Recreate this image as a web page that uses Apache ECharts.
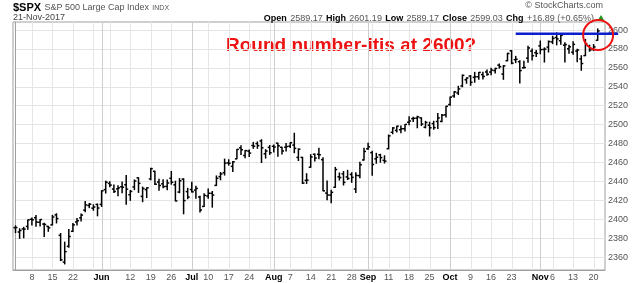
<!DOCTYPE html>
<html><head><meta charset="utf-8">
<script src="https://cdn.jsdelivr.net/npm/echarts@6/dist/echarts.min.js"></script>
<style>html,body{margin:0;padding:0;background:#fff}#c{width:640px;height:283px}</style>
</head><body><div id="c"></div>
<script>
// trading days (index 0 = 2017-05-02)
const dates = ['05-02','05-03','05-04','05-05','05-08','05-09','05-10','05-11','05-12','05-15','05-16','05-17','05-18','05-19','05-22','05-23','05-24','05-25','05-26','05-30','05-31',
'06-01','06-02','06-05','06-06','06-07','06-08','06-09','06-12','06-13','06-14','06-15','06-16','06-19','06-20','06-21','06-22','06-23','06-26','06-27','06-28','06-29','06-30',
'07-03','07-05','07-06','07-07','07-10','07-11','07-12','07-13','07-14','07-17','07-18','07-19','07-20','07-21','07-24','07-25','07-26','07-27','07-28','07-31',
'08-01','08-02','08-03','08-04','08-07','08-08','08-09','08-10','08-11','08-14','08-15','08-16','08-17','08-18','08-21','08-22','08-23','08-24','08-25','08-28','08-29','08-30','08-31',
'09-01','09-05','09-06','09-07','09-08','09-11','09-12','09-13','09-14','09-15','09-18','09-19','09-20','09-21','09-22','09-25','09-26','09-27','09-28','09-29',
'10-02','10-03','10-04','10-05','10-06','10-09','10-10','10-11','10-12','10-13','10-16','10-17','10-18','10-19','10-20','10-23','10-24','10-25','10-26','10-27','10-30','10-31',
'11-01','11-02','11-03','11-06','11-07','11-08','11-09','11-10','11-13','11-14','11-15','11-16','11-17','11-20','11-21'];

const open = [2391.05,2386.50,2389.79,2392.37,2399.94,2401.58,2396.79,2394.84,2392.44,2393.98,2404.55,2382.95,2354.69,2371.37,2387.21,2397.04,2401.41,2409.54,2414.50,2411.67,2415.63,
2415.65,2431.28,2437.83,2431.92,2432.03,2434.27,2436.39,2425.88,2434.15,2443.75,2424.14,2431.24,2442.55,2450.66,2439.31,2437.40,2434.65,2443.32,2436.34,2428.70,2442.38,2429.20,
2431.39,2430.78,2423.44,2413.52,2424.51,2427.35,2435.75,2444.99,2449.16,2459.50,2455.88,2463.85,2475.56,2467.40,2472.04,2477.88,2479.97,2482.76,2469.12,2475.94,
2477.10,2480.38,2476.03,2476.14,2477.14,2478.35,2465.35,2465.38,2441.04,2454.96,2468.66,2468.63,2462.95,2427.64,2425.50,2433.75,2444.88,2447.91,2444.72,2447.35,2431.94,2446.06,2462.65,
2474.42,2470.35,2463.83,2468.06,2462.25,2474.52,2491.94,2493.89,2494.56,2495.67,2502.51,2506.29,2506.84,2507.16,2497.26,2499.39,2501.04,2503.30,2503.41,2510.31,
2521.20,2530.34,2533.48,2540.86,2547.44,2551.39,2549.99,2550.62,2552.88,2555.66,2555.57,2557.17,2562.87,2553.39,2567.56,2578.08,2568.66,2566.52,2560.08,2570.26,2577.75,2575.99,
2583.21,2579.46,2581.93,2587.47,2592.11,2588.71,2584.00,2580.18,2576.53,2577.75,2569.45,2572.95,2582.94,2579.49,2589.17];

const high = [2392.93,2389.82,2391.43,2399.29,2401.36,2403.87,2399.74,2395.72,2392.44,2404.05,2405.77,2384.87,2375.74,2389.06,2395.46,2400.85,2405.58,2418.71,2416.68,2415.26,2415.99,
2430.06,2440.23,2439.54,2436.21,2435.28,2439.27,2446.20,2430.38,2441.49,2443.75,2433.95,2433.15,2453.82,2450.66,2442.23,2441.62,2441.40,2450.42,2440.15,2442.97,2442.73,2432.71,
2439.17,2434.90,2424.28,2426.92,2432.00,2429.30,2445.76,2449.32,2463.54,2462.82,2460.92,2473.83,2477.62,2472.54,2473.10,2481.24,2481.69,2484.04,2473.53,2477.96,
2478.51,2480.38,2476.03,2480.00,2480.95,2490.87,2474.41,2465.38,2448.09,2468.22,2468.90,2474.93,2465.02,2440.27,2430.58,2454.77,2448.91,2450.39,2451.65,2449.12,2449.19,2460.31,2475.01,
2480.38,2471.97,2469.64,2468.62,2467.11,2488.95,2496.77,2498.37,2498.43,2500.23,2508.32,2507.84,2508.85,2507.16,2503.47,2502.54,2503.51,2511.75,2510.81,2519.44,
2529.23,2535.13,2540.53,2552.51,2549.41,2551.82,2555.23,2555.24,2555.33,2557.65,2559.47,2559.71,2564.11,2562.36,2575.44,2578.29,2572.18,2567.40,2567.07,2582.98,2580.03,2578.29,
2588.40,2581.11,2588.42,2593.38,2597.02,2595.47,2586.50,2583.81,2587.66,2579.66,2572.84,2590.09,2583.96,2584.64,2601.19];

const low = [2385.82,2379.75,2380.35,2389.38,2393.92,2392.44,2392.79,2381.74,2387.19,2393.94,2396.05,2356.21,2352.72,2370.43,2386.92,2393.88,2397.99,2408.01,2412.20,2409.43,2403.59,
2413.54,2427.71,2434.32,2428.12,2424.75,2427.94,2415.70,2419.97,2431.28,2428.34,2418.53,2422.88,2441.79,2436.60,2430.74,2433.27,2431.11,2437.03,2419.38,2428.02,2405.70,2421.65,
2428.69,2422.05,2407.70,2413.52,2422.27,2412.79,2435.75,2441.69,2446.69,2457.16,2450.34,2463.85,2468.43,2465.06,2466.32,2474.91,2474.94,2459.93,2464.66,2468.53,
2471.14,2466.48,2468.85,2472.08,2475.88,2470.32,2462.08,2437.75,2437.85,2454.96,2461.61,2463.86,2430.01,2420.69,2417.35,2433.67,2441.42,2436.19,2441.93,2439.03,2428.20,2443.77,2462.65,
2473.85,2446.55,2459.20,2460.29,2459.40,2474.52,2490.37,2492.14,2491.35,2493.16,2499.92,2503.19,2496.67,2499.00,2496.54,2488.03,2495.12,2495.91,2502.93,2507.99,
2520.40,2528.85,2531.80,2540.02,2543.79,2541.60,2544.86,2547.95,2548.31,2552.09,2552.64,2554.69,2559.67,2547.92,2567.56,2564.33,2565.58,2544.00,2559.80,2565.94,2568.25,2572.15,
2574.92,2566.17,2576.77,2585.66,2584.35,2585.02,2566.33,2575.57,2574.48,2566.56,2557.45,2572.95,2577.62,2578.24,2589.17];

const close = [2391.17,2388.13,2389.52,2399.29,2399.38,2396.92,2399.63,2394.44,2390.90,2402.32,2400.67,2357.03,2365.72,2381.73,2394.02,2398.42,2404.39,2415.07,2415.82,2412.91,2411.80,
2430.06,2439.07,2436.10,2429.33,2433.14,2433.79,2431.77,2429.39,2440.35,2437.92,2432.46,2433.15,2453.46,2437.03,2435.61,2434.50,2438.30,2439.07,2419.38,2440.69,2419.70,2423.41,
2429.01,2432.54,2409.75,2425.18,2427.43,2425.53,2443.25,2447.83,2459.27,2459.14,2460.61,2473.83,2473.45,2472.54,2469.91,2477.13,2477.83,2475.42,2472.10,2470.30,
2476.35,2477.57,2472.16,2476.83,2480.91,2474.92,2474.02,2438.21,2441.32,2465.84,2464.61,2468.11,2430.01,2425.55,2428.37,2452.51,2444.04,2438.97,2443.05,2444.24,2446.30,2457.59,2471.65,
2476.55,2457.85,2465.54,2465.10,2461.43,2488.11,2496.48,2498.37,2495.62,2500.23,2503.87,2506.65,2508.24,2500.60,2502.22,2496.66,2496.84,2507.04,2510.06,2519.36,
2529.12,2534.58,2537.74,2552.07,2549.33,2544.73,2550.64,2555.24,2550.93,2553.17,2557.64,2559.36,2561.26,2562.10,2575.21,2564.98,2569.13,2557.15,2560.40,2581.07,2572.83,2575.26,
2579.36,2579.85,2587.84,2591.13,2590.64,2594.38,2584.62,2582.30,2584.84,2578.87,2564.62,2585.64,2578.85,2582.14,2599.03];

const tickIdx  = [4,9,14,21,28,33,38,43,47,52,57,63,67,72,77,82,86,91,96,101,106,111,116,121,128,131,136,141];
const tickText = ['8','15','22','Jun','12','19','26','Jul','10','17','24','Aug','7','14','21','28','Sep','11','18','25','Oct','9','16','23','Nov','6','13','20'];
const weekLines  = [4,9,14,19,23,28,33,38,43,47,52,57,62,67,72,77,82,87,91,96,101,106,111,116,121,126,131,136,141];
const monthLines = [21,43,63,86,106,128];
const yTicks = [2360,2380,2400,2420,2440,2460,2480,2500,2520,2540,2560,2580,2600];
const resistanceX = [122, 147];
const resistanceY = [2596, 2596];
const circleAt = [142.1, 2594.7];
const annotation = 'Round number-itis at 2600?';

const ohlc = dates.map((d, i) => [i, open[i], high[i], low[i], close[i]]);
const gridData = weekLines.map(i => [i, 0]).concat(monthLines.map(i => [i, 1]));

const chart = echarts.init(document.getElementById('c'), null, {renderer: 'canvas'});
const FONT = '"Liberation Sans", Arial, sans-serif';

const baseGraphics = [
  {type: 'text', left: 13, top: 2, style: {text: '{b|$SPX} {n|S&P 500 Large Cap Index} {s|INDX}', rich: {
    b: {font: 'bold 11px ' + FONT, fill: '#000'},
    n: {font: '9px ' + FONT, fill: '#555'},
    s: {font: '7px ' + FONT, fill: '#555'}}}},
  {type: 'text', left: 13, top: 13, style: {text: '21-Nov-2017', font: '9px ' + FONT, fill: '#444'}},
  {type: 'text', right: 46, top: 13, style: {text:
    '{k|Open} {v|2589.17} {k|High} {v|2601.19} {k|Low} {v|2589.17} {k|Close} {v|2599.03} {k|Chg} {v|+16.89 (+0.65%)}',
    rich: {k: {font: 'bold 9px ' + FONT, fill: '#000'}, v: {font: '9px ' + FONT, fill: '#555'}}}},
  {type: 'polygon', shape: {points: [[598, 20], [604, 20], [601, 15]]}, style: {fill: '#1a9a1a'}},
  {type: 'text', right: 37, top: 1, style: {text: '© StockCharts.com', font: '9px ' + FONT, fill: '#555'}},
  {type: 'text', left: 226, top: 36, style: {text: annotation, font: 'bold 19px ' + FONT, fill: '#ee1111'}}
];

chart.setOption({
  animation: false,
  backgroundColor: '#fff',
  grid: {left: 13, right: 35, top: 22, bottom: 13, show: true, borderColor: '#a0a0a0', borderWidth: 1},
  xAxis: {
    type: 'value', min: -0.61, max: 143.78,
    axisLine: {show: true, lineStyle: {color: '#a0a0a0'}},
    axisTick: {show: false},
    splitLine: {show: false},
    axisLabel: {
      customValues: tickIdx, margin: 3, fontSize: 9, fontFamily: FONT, color: '#555',
      formatter: v => {
        const k = tickIdx.indexOf(Math.round(v));
        if (k < 0) return '';
        const t = tickText[k];
        return /^\d+$/.test(t) ? t : '{m|' + t + '}';
      },
      rich: {m: {fontWeight: 'bold', color: '#000', fontSize: 9, fontFamily: FONT}}
    }
  },
  yAxis: {
    type: 'value', position: 'right', min: 2346.3, max: 2608.5,
    axisLine: {show: true, lineStyle: {color: '#a0a0a0'}},
    axisTick: {show: false, customValues: yTicks},
    splitLine: {show: true, lineStyle: {color: '#e4e4e4', width: 1}},
    axisLabel: {customValues: yTicks, margin: 3, fontSize: 9, fontFamily: FONT, color: '#555',
      formatter: v => String(Math.round(v))}
  },
  graphic: baseGraphics,
  series: [
    {
      type: 'custom', silent: true, z: 1,
      data: gridData,
      encode: {x: 0},
      renderItem: (params, api) => {
        const cs = params.coordSys;
        const x = Math.round(api.coord([api.value(0), 2400])[0]) + 0.5;
        const isMonth = api.value(1) === 1;
        return {type: 'line', shape: {x1: x, y1: cs.y, x2: x, y2: cs.y + cs.height},
          style: {stroke: isMonth ? '#cfcfcf' : '#e6e6e6', lineWidth: 1}};
      }
    },
    {
      type: 'custom', z: 3,
      data: ohlc,
      encode: {x: 0, y: [1, 2, 3, 4]},
      renderItem: (params, api) => {
        const i = api.value(0);
        const pO = api.coord([i, api.value(1)]);
        const pH = api.coord([i, api.value(2)]);
        const pL = api.coord([i, api.value(3)]);
        const pC = api.coord([i, api.value(4)]);
        const x = pH[0];
        const st = {stroke: '#000', lineWidth: 1.5};
        return {type: 'group', children: [
          {type: 'line', shape: {x1: x, y1: pH[1] - 0.5, x2: x, y2: pL[1] + 0.5}, style: st},
          {type: 'line', shape: {x1: x - 2, y1: pO[1], x2: x, y2: pO[1]}, style: st},
          {type: 'line', shape: {x1: x, y1: pC[1], x2: x + 2, y2: pC[1]}, style: st}
        ]};
      }
    }
  ]
});

// annotations positioned through the chart's own scales
const p0 = chart.convertToPixel({gridIndex: 0}, [resistanceX[0], resistanceY[0]]);
const p1 = chart.convertToPixel({gridIndex: 0}, [resistanceX[1], resistanceY[1]]);
const pc = chart.convertToPixel({gridIndex: 0}, circleAt);
chart.setOption({graphic: baseGraphics.concat([
  {type: 'line', z: 100, shape: {x1: p0[0], y1: p0[1], x2: p1[0], y2: p1[1]}, style: {stroke: '#0a20cc', lineWidth: 2.5}},
  {type: 'circle', z: 101, shape: {cx: pc[0], cy: pc[1], r: 15}, style: {fill: 'none', stroke: '#ee1111', lineWidth: 2}}
])});
</script>
</body></html>
